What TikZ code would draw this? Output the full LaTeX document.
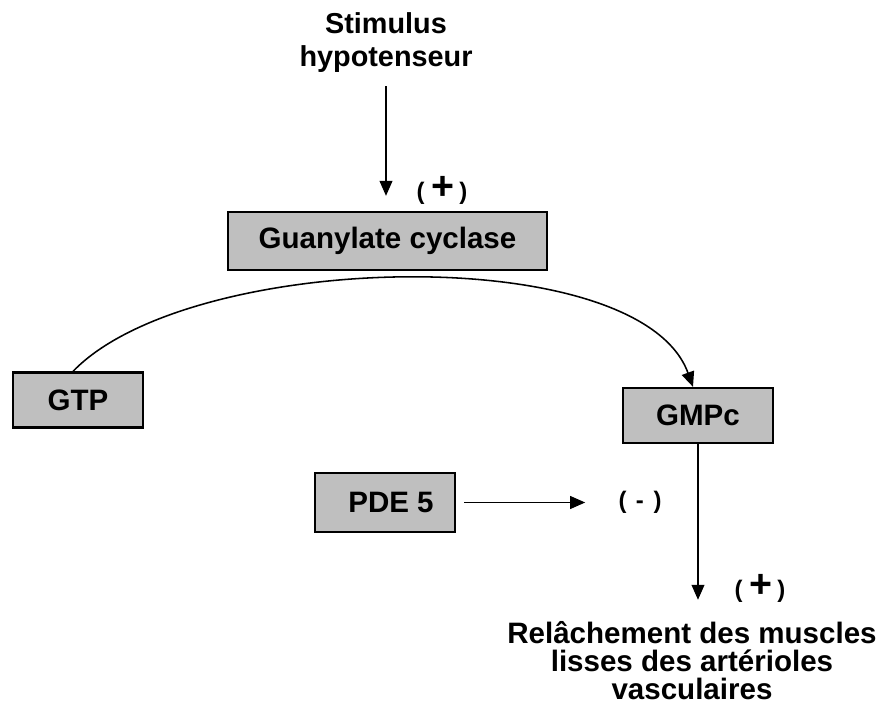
\documentclass[tikz,border=0pt]{standalone}
\usepackage{fontspec}
\setmainfont{Liberation Sans}
\usetikzlibrary{arrows.meta,positioning,calc}

\begin{document}
\begin{tikzpicture}[
    x=0.025cm, y=-0.025cm,
    box/.style={rectangle, draw=black, line width=1.6pt, fill=gray!50, inner sep=2pt, font=\fontsize{21}{24}\selectfont\bfseries},
    lbl/.style={align=center, inner sep=0pt},
    sign/.style={inner sep=0pt, font=\fontsize{17}{20}\selectfont\bfseries},
    arrow/.style={-{Triangle[length=3.75mm,width=3.2mm]}, line width=1.1pt}
]
\useasboundingbox (0,0) rectangle (884,708);

% Stimulus and enzyme
\node[lbl, anchor=north, font=\fontsize{20.5}{23.5}\selectfont\bfseries] (stim) at (386,12) {Stimulus\\hypotenseur};
\node[box, minimum width=7.975cm, minimum height=1.45cm] (gc) at (387.5,241) {Guanylate cyclase};
\node[sign] (plus1) at (442,190) {(\hspace{0.3em}{\fontsize{28}{28}\selectfont+}\hspace{0.2em})};

% Substrate and product
\node[box, minimum width=3.25cm, minimum height=1.375cm] (gtp) at (78,400) {GTP};
\node[box, minimum width=3.75cm, minimum height=1.375cm] (gmpc) at (698,415.5) {GMPc};

% Inhibition
\node[box, minimum width=3.5cm, minimum height=1.475cm] (pde) at (385,502.5) {\hspace{0.3cm}PDE 5};
\node[sign] (minus) at (640,502.5) {(\hspace{0.4em}-\hspace{0.4em})};

% Effect
\node[sign] (plus2) at (760,588) {(\hspace{0.3em}{\fontsize{28}{28}\selectfont+}\hspace{0.2em})};
\node[lbl, anchor=north, font=\fontsize{21}{20}\selectfont\bfseries] (relax) at (692,621) {Relâchement des muscles\\lisses des artérioles\\vasculaires};

% Arrows
\draw[arrow] ([yshift=-0.35cm]stim.south) -- ([yshift=0.375cm]stim.south |- gc.north);
\draw[arrow] ([xshift=-0.125cm]gtp.north) .. controls (190,250) and (640,240) .. ([xshift=-0.125cm]gmpc.north);
\draw[arrow] ([xshift=0.2cm]pde.east) -- ([xshift=-0.825cm]minus.west);
\draw[arrow] (gmpc.south) -- ([yshift=0.53cm]gmpc.south |- relax.north);

\end{tikzpicture}
\end{document}
